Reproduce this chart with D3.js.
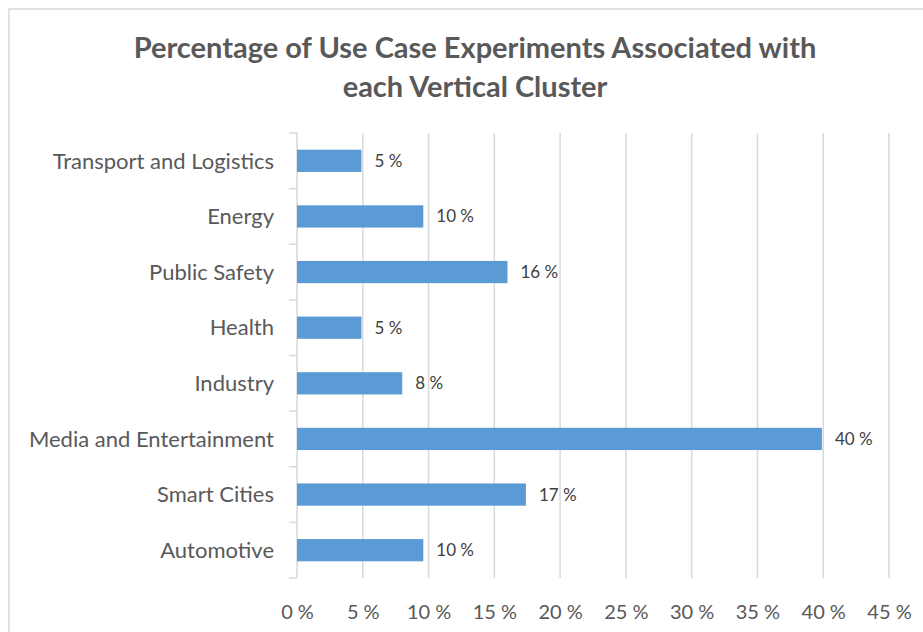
<!DOCTYPE html>
<html>
<head>
<meta charset="utf-8">
<script src="https://cdn.jsdelivr.net/npm/d3@7"></script>
<style>
  body { margin: 0; background: #fff; }
  text { font-family: Lato, "Open Sans", sans-serif; }
</style>
</head>
<body>
<div id="wrapper"></div>
<script>
const categories = [
  "Transport and Logistics",
  "Energy",
  "Public Safety",
  "Health",
  "Industry",
  "Media and Entertainment",
  "Smart Cities",
  "Automotive",
];
const shares = [4.9, 9.6, 16.0, 4.9, 8.0, 39.9, 17.4, 9.6];
const xTicks = [0, 5, 10, 15, 20, 25, 30, 35, 40, 45];
const titleLines = [
  "Percentage of Use Case Experiments Associated with",
  "each Vertical Cluster",
];

function drawBars() {
  const dataset = categories.map((c, i) => ({ category: c, share: shares[i] }));

  // dimensions
  let dimensions = {
    width: 923,
    height: 632,
    margin: { top: 133, right: 34, bottom: 54, left: 297 },
  };
  dimensions.boundedWidth = dimensions.width - dimensions.margin.left - dimensions.margin.right;
  dimensions.boundedHeight = dimensions.height - dimensions.margin.top - dimensions.margin.bottom;

  const wrapper = d3.select("#wrapper")
    .append("svg")
    .attr("width", dimensions.width)
    .attr("height", dimensions.height);

  // chart frame (runs off right and bottom)
  wrapper.append("rect")
    .attr("x", 9).attr("y", 9)
    .attr("width", 940).attr("height", 640)
    .attr("fill", "none")
    .attr("stroke", "#d9d9d9")
    .attr("stroke-width", 1.5);

  const title = wrapper.append("text")
    .attr("text-anchor", "middle")
    .attr("fill", "#595959")
    .style("font-size", "29px")
    .style("font-weight", "bold");
  titleLines.forEach((t, i) => {
    title.append("tspan").attr("x", 475).attr("y", 58 + i * 39).text(t);
  });

  const bounds = wrapper.append("g")
    .attr("transform", `translate(${dimensions.margin.left},${dimensions.margin.top})`);

  // scales
  const xScale = d3.scaleLinear()
    .domain([0, 45])
    .range([0, dimensions.boundedWidth]);

  const yScale = d3.scaleBand()
    .domain(categories)
    .range([0, dimensions.boundedHeight])
    .paddingInner(0.6)
    .paddingOuter(0.3);

  // grid
  bounds.append("g")
    .selectAll("line")
    .data(xTicks.slice(1))
    .join("line")
    .attr("x1", d => xScale(d)).attr("x2", d => xScale(d))
    .attr("y1", 0).attr("y2", dimensions.boundedHeight)
    .attr("stroke", "#d9d9d9")
    .attr("stroke-width", 1.5);

  // x axis labels
  const xAxis = bounds.append("g")
    .attr("transform", `translate(0,${dimensions.boundedHeight})`)
    .call(d3.axisBottom(xScale).tickValues(xTicks).tickSize(0).tickPadding(0).tickFormat(d => d + " %"));
  xAxis.select(".domain").remove();
  xAxis.selectAll("text")
    .attr("y", 41).attr("dy", 0)
    .attr("fill", "#595959")
    .style("font-size", "20px")
    .style("font-family", null);

  // y axis
  const yAxis = bounds.append("g")
    .call(d3.axisLeft(yScale).tickSize(0).tickPadding(23));
  yAxis.select(".domain").remove();
  yAxis.selectAll("text")
    .attr("dy", "0.35em")
    .attr("fill", "#595959")
    .style("font-size", "22px")
    .style("font-family", null);

  const step = yScale.step();
  const axisLine = bounds.append("g").attr("stroke", "#d9d9d9").attr("stroke-width", 1.5);
  axisLine.append("line")
    .attr("x1", 0).attr("x2", 0)
    .attr("y1", 0).attr("y2", dimensions.boundedHeight);
  axisLine.selectAll(".sep")
    .data(d3.range(categories.length + 1))
    .join("line")
    .attr("class", "sep")
    .attr("x1", -8).attr("x2", 0)
    .attr("y1", i => i * step).attr("y2", i => i * step);

  // bars
  bounds.append("g")
    .selectAll("rect")
    .data(dataset)
    .join("rect")
    .attr("x", 0)
    .attr("y", d => yScale(d.category))
    .attr("width", d => xScale(d.share))
    .attr("height", yScale.bandwidth())
    .attr("fill", "#5b9bd5");

  // value labels
  bounds.append("g")
    .selectAll("text")
    .data(dataset)
    .join("text")
    .attr("x", d => xScale(d.share) + 13)
    .attr("y", d => yScale(d.category) + yScale.bandwidth() / 2)
    .attr("dy", "0.35em")
    .attr("fill", "#404040")
    .style("font-size", "17px")
    .text(d => d3.format(".0f")(d.share) + " %");
}

drawBars();
</script>
</body>
</html>
